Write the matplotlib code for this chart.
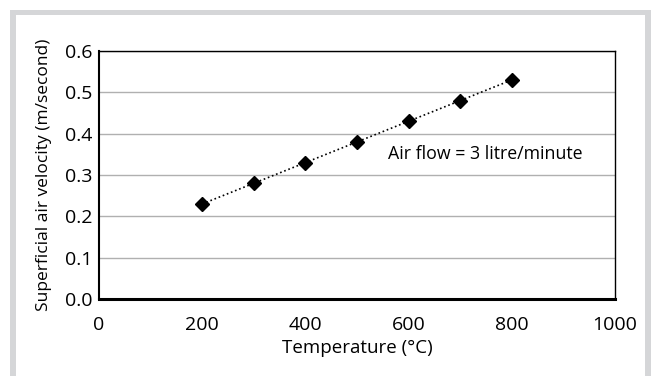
import matplotlib
matplotlib.use('Agg')
import matplotlib.pyplot as plt
from matplotlib.patches import Rectangle

# data
temperature = [200, 300, 400, 500, 600, 700, 800]
velocity = [0.23, 0.28, 0.33, 0.38, 0.43, 0.48, 0.53]
x_ticks = [0, 200, 400, 600, 800, 1000]
y_ticks = [0.0, 0.1, 0.2, 0.3, 0.4, 0.5, 0.6]

plt.rcParams['font.family'] = ['Open Sans', 'DejaVu Sans']

fig = plt.figure(figsize=(6.51, 3.76), dpi=100)
W, H = 651, 376

# light grey frame (left, top, right only - bottom is cut off)
grey = '#d5d6d8'
for (x0, y0, w, h) in [(10, 10, 6, 366), (10, 10, 641, 5), (645, 10, 6, 366)]:
    fig.patches.append(Rectangle((x0 / W, 1 - (y0 + h) / H), w / W, h / H,
                                 transform=fig.transFigure, color=grey, lw=0))

ax = fig.add_axes([99 / W, 1 - 299 / H, (615 - 99) / W, (299 - 51) / H])

ax.plot(temperature, velocity, color='black', linestyle=':', linewidth=1.2,
        marker='D', markersize=7, markerfacecolor='black', markeredgecolor='black', zorder=3)

ax.set_xlim(0, 1000)
ax.set_ylim(0, 0.6)
ax.set_xticks(x_ticks)
ax.set_yticks(y_ticks)
ax.set_yticklabels(['%.1f' % v for v in y_ticks])
ax.tick_params(length=0, labelsize=14)
ax.tick_params(axis='x', pad=12)
ax.tick_params(axis='y', pad=5)
ax.yaxis.grid(True, color='#b0b0b0', linewidth=1)
ax.set_axisbelow(True)

for s in ['top', 'right']:
    ax.spines[s].set_linewidth(1.0)
ax.spines['left'].set_linewidth(1.5)
ax.spines['bottom'].set_linewidth(2.2)

ax.set_xlabel('Temperature (\u00b0C)', fontsize=13.5, labelpad=4)
ax.set_ylabel('Superficial air velocity (m/second)', fontsize=12.5, labelpad=9)

ax.text(560, 0.351, 'Air flow = 3 litre/minute', fontsize=12.8, va='center', ha='left')

fig.savefig('out.png', dpi=100)
